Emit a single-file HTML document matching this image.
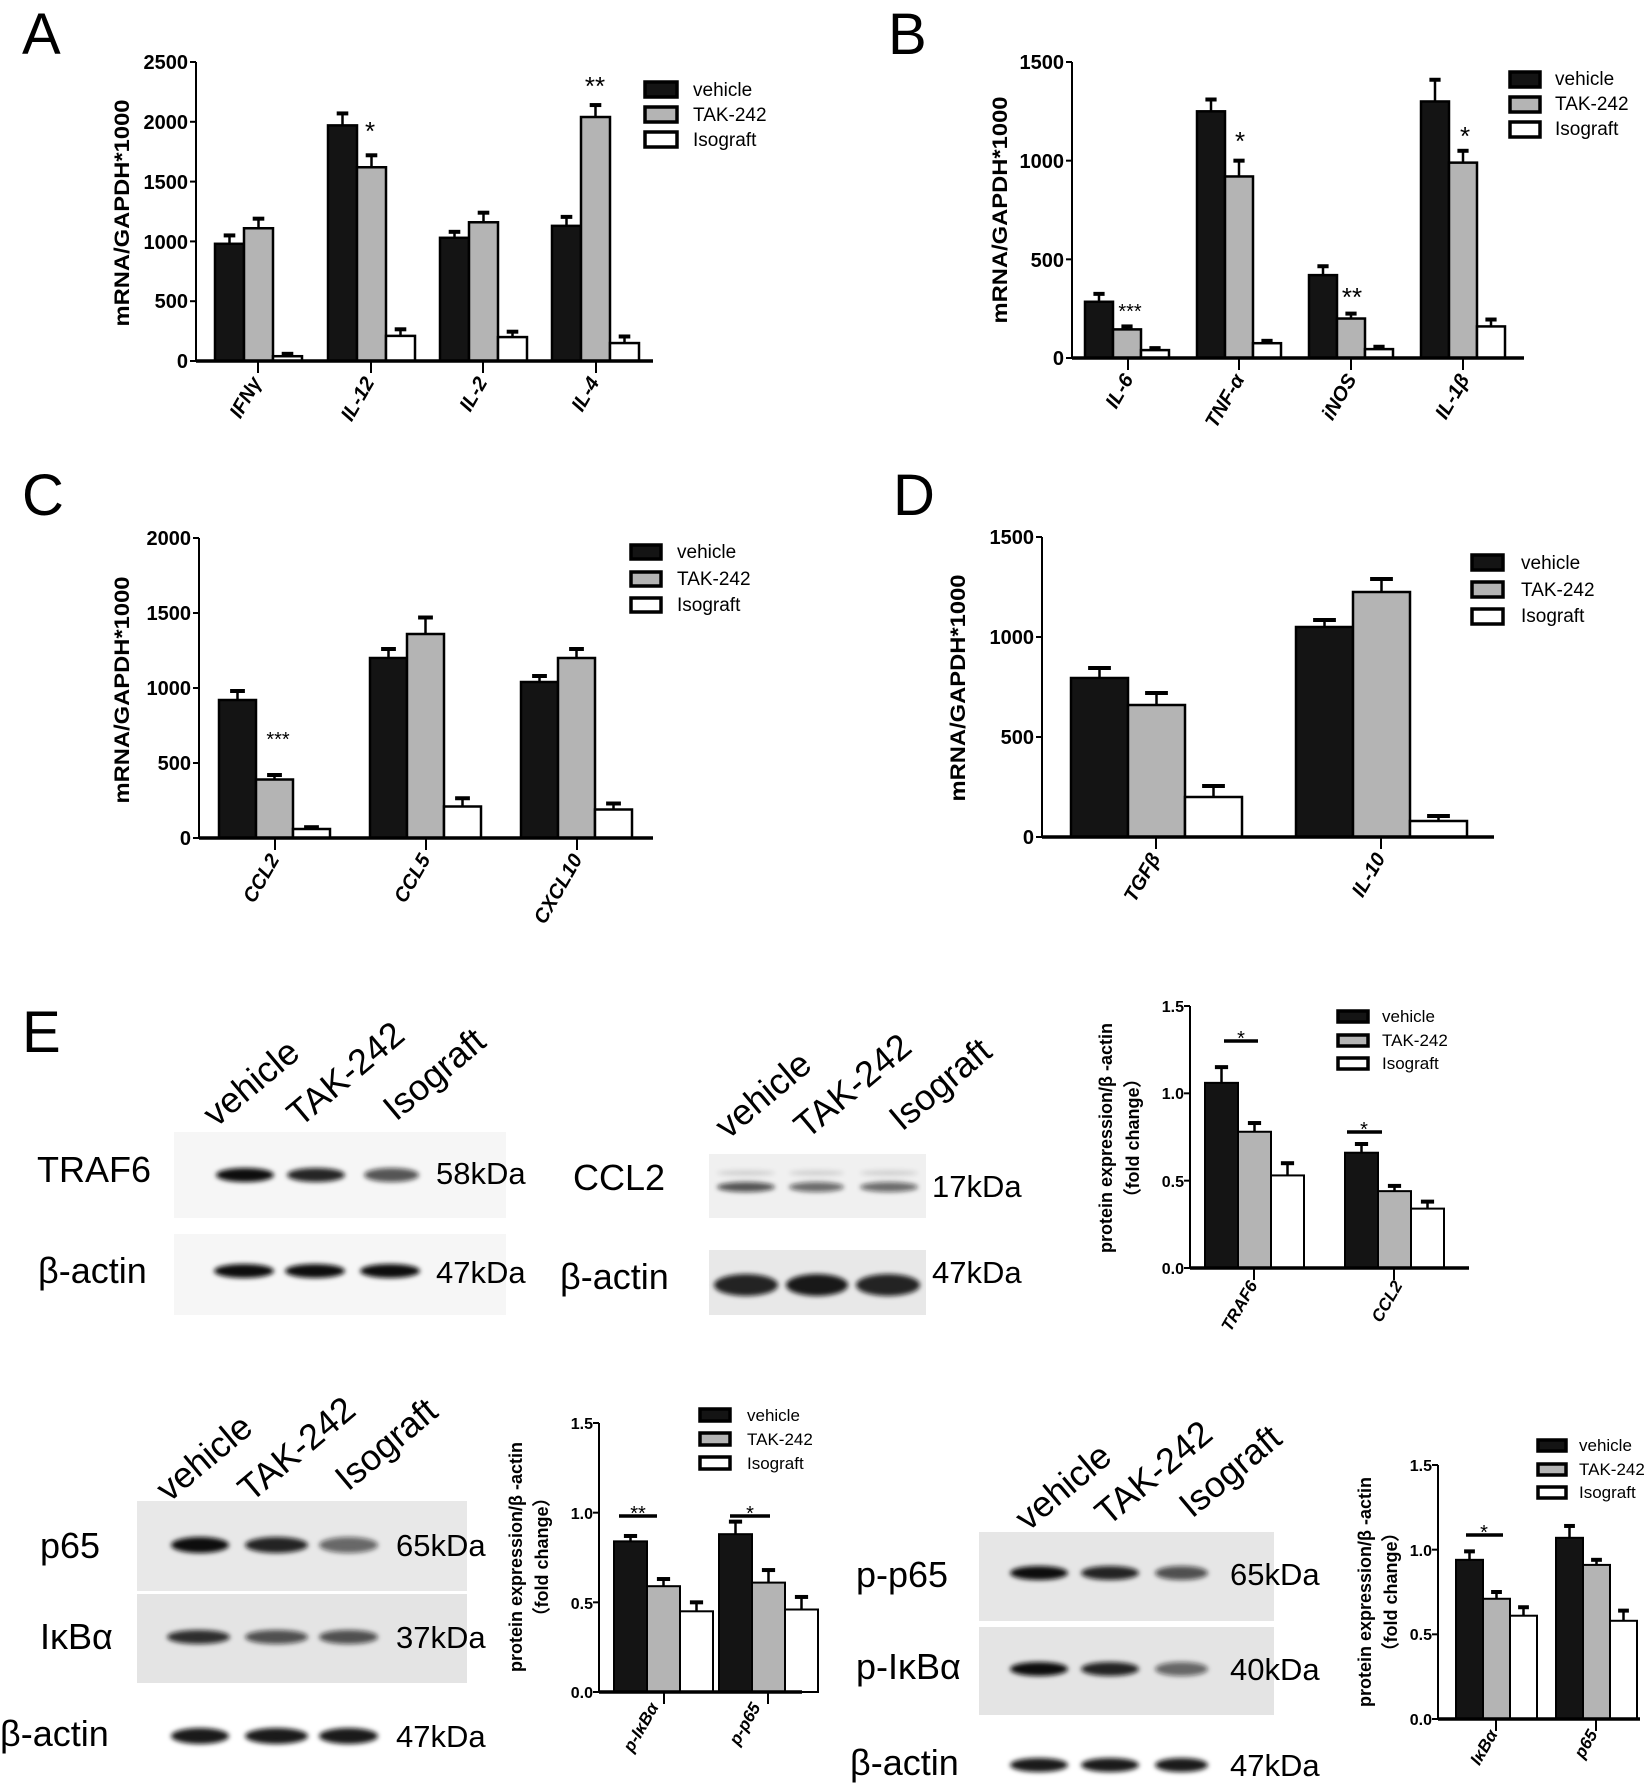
<!DOCTYPE html>
<html><head><meta charset="utf-8"><style>
html,body{margin:0;padding:0;background:#fff;}
svg{display:block;}
text{font-family:"Liberation Sans",Arial,sans-serif;fill:#000;}
.tk{font-size:20px;font-weight:bold;text-anchor:end;}
.tks{font-size:16px;font-weight:bold;text-anchor:end;}
.yt{font-size:21px;font-weight:bold;text-anchor:middle;}
.yts{font-size:18px;font-weight:bold;text-anchor:middle;}
.xl{font-size:20px;font-weight:bold;font-style:italic;text-anchor:end;}
.xls{font-size:17px;font-weight:bold;font-style:italic;text-anchor:end;}
.lg{font-size:19px;}
.lgs{font-size:17px;}
.big{font-size:58px;}
.bl{font-size:36px;}
.kd{font-size:31px;}
.st{font-size:26px;text-anchor:middle;}
.sts{font-size:20px;text-anchor:middle;}
</style></head><body>
<svg id="s" width="1650" height="1790" viewBox="0 0 1650 1790" xmlns="http://www.w3.org/2000/svg">
<defs><filter id="bl" x="-20%" y="-100%" width="140%" height="300%"><feGaussianBlur stdDeviation="2.5"/></filter></defs>
<g id="g"></g>
<text class="big" x="22" y="54">A</text>
<text class="big" x="888" y="54">B</text>
<text class="big" x="22" y="515">C</text>
<text class="big" x="893" y="515">D</text>
<text class="big" x="22" y="1052">E</text>

<!-- A -->
<text class="tk" x="188" y="69">2500</text>
<text class="tk" x="188" y="129">2000</text>
<text class="tk" x="188" y="189">1500</text>
<text class="tk" x="188" y="249">1000</text>
<text class="tk" x="188" y="308">500</text>
<text class="tk" x="188" y="368">0</text>
<text class="yt" transform="translate(129,213) rotate(-90)" textLength="227" lengthAdjust="spacingAndGlyphs">mRNA/GAPDH*1000</text>
<text class="xl" transform="translate(262,382) rotate(-60)">IFNγ</text>
<text class="xl" transform="translate(375,382) rotate(-60)">IL-12</text>
<text class="xl" transform="translate(488,382) rotate(-60)">IL-2</text>
<text class="xl" transform="translate(600,382) rotate(-60)">IL-4</text>
<text class="lg" x="693" y="96">vehicle</text>
<text class="lg" x="693" y="121">TAK-242</text>
<text class="lg" x="693" y="146">Isograft</text>
<text class="st" x="370" y="140">*</text>
<text class="st" x="595" y="95">**</text>

<!-- B -->
<text class="tk" x="1064" y="69">1500</text>
<text class="tk" x="1064" y="168">1000</text>
<text class="tk" x="1064" y="267">500</text>
<text class="tk" x="1064" y="365">0</text>
<text class="yt" transform="translate(1007,210) rotate(-90)" textLength="227" lengthAdjust="spacingAndGlyphs">mRNA/GAPDH*1000</text>
<text class="xl" transform="translate(1134,379) rotate(-60)">IL-6</text>
<text class="xl" transform="translate(1245,379) rotate(-60)">TNF-α</text>
<text class="xl" transform="translate(1357,379) rotate(-60)">iNOS</text>
<text class="xl" transform="translate(1470,379) rotate(-60)">IL-1β</text>
<text class="lg" x="1555" y="85">vehicle</text>
<text class="lg" x="1555" y="110">TAK-242</text>
<text class="lg" x="1555" y="135">Isograft</text>
<text class="sts" x="1130" y="318">***</text>
<text class="st" x="1240" y="150">*</text>
<text class="st" x="1352" y="306">**</text>
<text class="st" x="1465" y="145">*</text>

<!-- C -->
<text class="tk" x="191" y="545">2000</text>
<text class="tk" x="191" y="620">1500</text>
<text class="tk" x="191" y="695">1000</text>
<text class="tk" x="191" y="770">500</text>
<text class="tk" x="191" y="845">0</text>
<text class="yt" transform="translate(129,690) rotate(-90)" textLength="227" lengthAdjust="spacingAndGlyphs">mRNA/GAPDH*1000</text>
<text class="xl" transform="translate(280,859) rotate(-60)">CCL2</text>
<text class="xl" transform="translate(431,859) rotate(-60)">CCL5</text>
<text class="xl" transform="translate(583,859) rotate(-60)">CXCL10</text>
<text class="lg" x="677" y="558">vehicle</text>
<text class="lg" x="677" y="585">TAK-242</text>
<text class="lg" x="677" y="611">Isograft</text>
<text class="sts" x="278" y="746">***</text>

<!-- D -->
<text class="tk" x="1034" y="544">1500</text>
<text class="tk" x="1034" y="644">1000</text>
<text class="tk" x="1034" y="744">500</text>
<text class="tk" x="1034" y="844">0</text>
<text class="yt" transform="translate(965,688) rotate(-90)" textLength="227" lengthAdjust="spacingAndGlyphs">mRNA/GAPDH*1000</text>
<text class="xl" transform="translate(1161,858) rotate(-60)">TGFβ</text>
<text class="xl" transform="translate(1386,858) rotate(-60)">IL-10</text>
<text class="lg" x="1521" y="569">vehicle</text>
<text class="lg" x="1521" y="596">TAK-242</text>
<text class="lg" x="1521" y="622">Isograft</text>

<!-- E blots -->
<text class="bl" x="37" y="1182">TRAF6</text>
<text class="kd" x="436" y="1184">58kDa</text>
<text class="bl" x="38" y="1283">β-actin</text>
<text class="kd" x="436" y="1283">47kDa</text>
<text class="bl" transform="translate(216,1128) rotate(-40)">vehicle</text>
<text class="bl" transform="translate(300,1128) rotate(-40)">TAK-242</text>
<text class="bl" transform="translate(396,1122) rotate(-40)">Isograft</text>

<text class="bl" x="573" y="1190">CCL2</text>
<text class="kd" x="932" y="1197">17kDa</text>
<text class="bl" x="560" y="1289">β-actin</text>
<text class="kd" x="932" y="1283">47kDa</text>
<text class="bl" transform="translate(728,1140) rotate(-40)">vehicle</text>
<text class="bl" transform="translate(807,1140) rotate(-40)">TAK-242</text>
<text class="bl" transform="translate(902,1132) rotate(-40)">Isograft</text>

<text class="bl" x="40" y="1558">p65</text>
<text class="kd" x="396" y="1556">65kDa</text>
<text class="bl" x="40" y="1649">IκBα</text>
<text class="kd" x="396" y="1648">37kDa</text>
<text class="bl" x="0" y="1746">β-actin</text>
<text class="kd" x="396" y="1747">47kDa</text>
<text class="bl" transform="translate(169,1503) rotate(-40)">vehicle</text>
<text class="bl" transform="translate(251,1503) rotate(-40)">TAK-242</text>
<text class="bl" transform="translate(348,1492) rotate(-40)">Isograft</text>

<text class="bl" x="856" y="1587">p-p65</text>
<text class="kd" x="1230" y="1585">65kDa</text>
<text class="bl" x="856" y="1679">p-IκBα</text>
<text class="kd" x="1230" y="1680">40kDa</text>
<text class="bl" x="850" y="1775">β-actin</text>
<text class="kd" x="1230" y="1776">47kDa</text>
<text class="bl" transform="translate(1028,1532) rotate(-40)">vehicle</text>
<text class="bl" transform="translate(1108,1527) rotate(-40)">TAK-242</text>
<text class="bl" transform="translate(1192,1519) rotate(-40)">Isograft</text>

<!-- E chart 1 -->
<text class="tks" x="1184" y="1012">1.5</text>
<text class="tks" x="1184" y="1099">1.0</text>
<text class="tks" x="1184" y="1187">0.5</text>
<text class="tks" x="1184" y="1274">0.0</text>
<text class="yts" transform="translate(1112,1138) rotate(-90)">protein expression/β -actin</text>
<text class="yts" transform="translate(1139,1138) rotate(-90)">（fold change）</text>
<text class="xls" transform="translate(1258,1285) rotate(-60)">TRAF6</text>
<text class="xls" transform="translate(1403,1285) rotate(-60)">CCL2</text>
<text class="lgs" x="1382" y="1022">vehicle</text>
<text class="lgs" x="1382" y="1046">TAK-242</text>
<text class="lgs" x="1382" y="1069">Isograft</text>
<text class="sts" x="1241" y="1045">*</text>
<text class="sts" x="1364" y="1136">*</text>

<!-- E chart 2 -->
<text class="tks" x="593" y="1429">1.5</text>
<text class="tks" x="593" y="1519">1.0</text>
<text class="tks" x="593" y="1609">0.5</text>
<text class="tks" x="593" y="1698">0.0</text>
<text class="yts" transform="translate(522,1557) rotate(-90)">protein expression/β -actin</text>
<text class="yts" transform="translate(548,1557) rotate(-90)">（fold change）</text>
<text class="xls" transform="translate(659,1707) rotate(-60)">p-IκBα</text>
<text class="xls" transform="translate(761,1707) rotate(-60)">p-p65</text>
<text class="lgs" x="747" y="1421">vehicle</text>
<text class="lgs" x="747" y="1445">TAK-242</text>
<text class="lgs" x="747" y="1469">Isograft</text>
<text class="sts" x="638" y="1520">**</text>
<text class="sts" x="750" y="1520">*</text>

<!-- E chart 3 -->
<text class="tks" x="1432" y="1471">1.5</text>
<text class="tks" x="1432" y="1556">1.0</text>
<text class="tks" x="1432" y="1640">0.5</text>
<text class="tks" x="1432" y="1725">0.0</text>
<text class="yts" transform="translate(1371,1592) rotate(-90)">protein expression/β -actin</text>
<text class="yts" transform="translate(1397,1592) rotate(-90)">（fold change）</text>
<text class="xls" transform="translate(1498,1734) rotate(-60)">IκBα</text>
<text class="xls" transform="translate(1598,1734) rotate(-60)">p65</text>
<text class="lgs" x="1579" y="1451">vehicle</text>
<text class="lgs" x="1579" y="1475">TAK-242</text>
<text class="lgs" x="1579" y="1498">Isograft</text>
<text class="sts" x="1484" y="1539">*</text>
</svg>
<script>
const NS='http://www.w3.org/2000/svg';const G=document.getElementById('g');
function el(t,a){const e=document.createElementNS(NS,t);for(const k in a)e.setAttribute(k,a[k]);G.appendChild(e);return e;}
const F=['#141414','#b4b4b4','#ffffff'];
function chart(c){
  const sc=(c.y0-c.yt)/c.max, sw=c.sw||2.5;
  c.groups.forEach(gr=>{
    gr[1].forEach((v,i)=>{
      const x=gr[0]+i*c.bw, top=c.y0-v*sc, e=gr[2][i]*sc;
      el('rect',{x:x,y:top,width:c.bw,height:v*sc,fill:F[i],stroke:'#000','stroke-width':sw});
      const cx=x+c.bw/2;
      el('line',{x1:cx,y1:top,x2:cx,y2:top-e,stroke:'#000','stroke-width':2.5});
      el('line',{x1:cx-c.bw*0.2,y1:top-e,x2:cx+c.bw*0.2,y2:top-e,stroke:'#000','stroke-width':4});
    });
  });
  el('line',{x1:c.ax,y1:c.yt,x2:c.ax,y2:c.y0,stroke:'#000','stroke-width':2});
  el('line',{x1:c.ax,y1:c.y0,x2:c.end,y2:c.y0,stroke:'#000','stroke-width':3.5});
  c.yticks.forEach(v=>{const y=c.y0-v*sc;el('line',{x1:c.ax-6,y1:y,x2:c.ax,y2:y,stroke:'#000','stroke-width':2});});
  c.xticks.forEach(x=>el('line',{x1:x,y1:c.y0,x2:x,y2:c.y0+12,stroke:'#000','stroke-width':2}));
  c.leg.forEach((l,i)=>el('rect',{x:l[0],y:l[1],width:l[2],height:l[3],fill:F[i],stroke:'#000','stroke-width':3.5}));
  (c.sig||[]).forEach(s=>el('line',{x1:s[0],y1:s[2],x2:s[1],y2:s[2],stroke:'#000','stroke-width':3.5}));
}
chart({ax:196,y0:361,yt:62,max:2500,bw:29,end:653,
 groups:[[215,[980,1110,40],[70,80,20]],[328,[1970,1620,210],[100,100,55]],[440,[1030,1160,200],[50,80,45]],[552,[1130,2040,150],[75,100,55]]],
 xticks:[258,371,483,596],yticks:[0,500,1000,1500,2000,2500],
 leg:[[645,82,32,15],[645,107,32,15],[645,132,32,15]]});
chart({ax:1072,y0:358,yt:62,max:1500,bw:28,end:1524,
 groups:[[1085,[285,145,40],[40,15,10]],[1197,[1250,920,75],[60,80,12]],[1309,[420,200,45],[45,25,12]],[1421,[1300,990,160],[110,60,35]]],
 xticks:[1128,1239,1351,1463],yticks:[0,500,1000,1500],
 leg:[[1510,72,30,15],[1510,97,30,15],[1510,122,30,15]]});
chart({ax:199,y0:838,yt:538,max:2000,bw:37,end:653,
 groups:[[219,[920,390,60],[60,30,12]],[370,[1200,1360,210],[60,110,55]],[521,[1040,1200,190],[40,60,40]]],
 xticks:[275,426,577],yticks:[0,500,1000,1500,2000],
 leg:[[631,545,30,14],[631,572,30,14],[631,598,30,14]]});
chart({ax:1042,y0:837,yt:537,max:1500,bw:57,end:1494,
 groups:[[1071,[795,660,200],[50,60,55]],[1296,[1050,1225,80],[35,65,25]]],
 xticks:[1156,1381],yticks:[0,500,1000,1500],
 leg:[[1472,555,31,15],[1472,582,31,15],[1472,609,31,15]]});
chart({ax:1190,y0:1268,yt:1006,max:1.5,bw:33,end:1469,sw:2,
 groups:[[1205,[1.06,0.78,0.53],[0.09,0.05,0.07]],[1345,[0.66,0.44,0.34],[0.05,0.03,0.04]]],
 xticks:[1254,1394],yticks:[0,0.5,1,1.5],
 leg:[[1338,1011,30,11],[1338,1035,30,11],[1338,1058,30,11]],sig:[[1224,1258,1041],[1347,1382,1132]]});
chart({ax:599,y0:1692,yt:1423,max:1.5,bw:33,end:802,sw:2,
 groups:[[614,[0.84,0.59,0.45],[0.03,0.04,0.05]],[719,[0.88,0.61,0.46],[0.07,0.07,0.07]]],
 xticks:[664,768],yticks:[0,0.5,1,1.5],
 leg:[[700,1409,30,12],[700,1433,30,12],[700,1457,30,12]],sig:[[619,657,1516],[730,770,1516]]});
chart({ax:1438,y0:1719,yt:1465,max:1.5,bw:27,end:1640,sw:2,
 groups:[[1456,[0.94,0.71,0.61],[0.05,0.04,0.05]],[1556,[1.07,0.91,0.58],[0.07,0.03,0.06]]],
 xticks:[1496,1596],yticks:[0,0.5,1,1.5],
 leg:[[1538,1440,28,11],[1538,1464,28,11],[1538,1487,28,11]],sig:[[1466,1503,1535]]});
function box(x,y,w,h,f){el('rect',{x:x,y:y,width:w,height:h,fill:f});}
function bands(y,xs,ry,op){xs.forEach((b,i)=>el('ellipse',{cx:(b[0]+b[1])/2,cy:y,rx:(b[1]-b[0])/2,ry:ry,fill:'#111','fill-opacity':op[i],filter:'url(#bl)'}));}
box(174,1132,332,86,'#f6f6f6');box(174,1234,332,81,'#f6f6f6');
bands(1175,[[216,274],[287,345],[364,419]],7,[1,0.9,0.7]);
bands(1271,[[214,274],[285,345],[360,420]],7,[1,1,1]);
box(709,1154,217,64,'#f0f0f0');box(709,1250,217,65,'#e8e8e8');
bands(1173,[[717,775],[789,844],[860,918]],3,[0.12,0.12,0.12]);
bands(1187,[[717,775],[789,844],[860,918]],5,[0.7,0.6,0.6]);
bands(1285,[[714,778],[786,848],[856,920]],11,[0.9,0.95,0.9]);
box(137,1501,330,90,'#e8e8e8');box(137,1594,330,89,'#e4e4e4');
bands(1545,[[171,229],[245,308],[319,378]],8,[1,0.9,0.6]);
bands(1637,[[167,230],[245,308],[319,378]],7,[0.85,0.7,0.7]);
bands(1736,[[171,229],[245,308],[319,378]],8,[0.95,0.95,0.95]);
box(979,1532,295,89,'#e6e6e6');box(979,1627,295,88,'#e4e4e4');
bands(1573,[[1010,1068],[1081,1139],[1155,1208]],7,[1,0.9,0.7]);
bands(1669,[[1010,1068],[1081,1139],[1155,1208]],7,[1,0.9,0.6]);
bands(1765,[[1010,1068],[1081,1139],[1155,1208]],7,[0.95,0.95,0.95]);
</script>
</body></html>
